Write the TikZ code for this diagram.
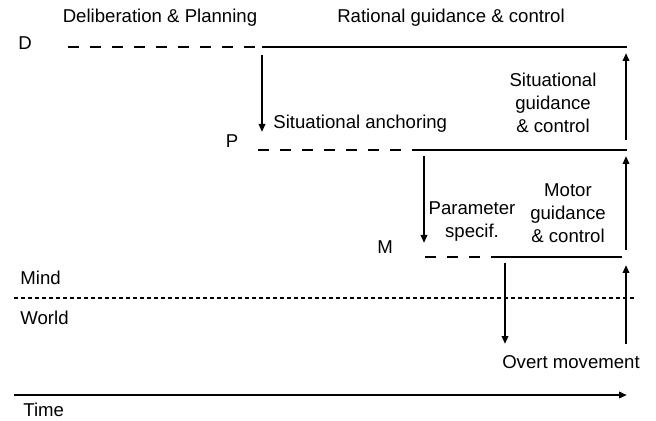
\documentclass[tikz,border=0pt]{standalone}
\usepackage{fontspec}
\setmainfont{Liberation Sans}
\usetikzlibrary{arrows.meta, positioning}

\begin{document}
\begin{tikzpicture}[x=0.5pt, y=-0.5pt,% styles used in image code
         > = {Triangle[length=4pt, width=3.2pt]},
   txt/.style = {inner sep=0pt, font=\fontsize{9.3}{11.5}\selectfont, align=center},
 level/.style = {line width=1pt},
plan/.style = {line width=1pt, dash pattern=on 5.5pt off 5.5pt},
  flow/.style = {line width=1pt, ->, shorten >=1pt}
                        ]
	\useasboundingbox (0,0) rectangle (656,421);

	% headings
	\node[txt] (delib) at (160,18) {Deliberation \& Planning};
	\node[txt] (rational) at (451,18) {Rational guidance \& control};

	% levels D, P, M
	\node[txt] (D) at (25,43) {D};
	\node[txt] (P) at (232,141) {P};
	\node[txt] (M) at (385,247) {M};

	\coordinate (d0) at (68,47);
	\coordinate (d1) at (262,47);
	\coordinate (d2) at (627,47);
	\coordinate (p0) at (258,150);
	\coordinate (p1) at (420,150);
	\coordinate (p2) at (627,150);
	\coordinate (m0) at (425,257);
	\coordinate (m1) at (500,257);
	\coordinate (m2) at (622,257);

	\draw[plan] (d0) -- (d1);
	\draw[level] (d1) -- (d2);
	\draw[plan] (p0) -- (p1);
	\draw[level] (p1) -- (p2);
	\draw[plan] (m0) -- (m1);
	\draw[level] (m1) -- (m2);

	% downward specification
	\draw[flow] (262,55) -- (262,134);
	\draw[flow] (424,156) -- (424,245);
	\draw[flow] (505,263) -- (505,346);

	% upward control
	\draw[flow] (626,140) -- (626,51);
	\draw[flow] (626,250) -- (626,154);
	\draw[flow] (626,344) -- (626,263);

	\node[txt, anchor=west] (anchor) at (273,124) {Situational anchoring};
	\node[txt] (sitgc) at (553,103) {Situational\\guidance\\\& control};
	\node[txt] (param) at (472,222) {Parameter\\specif.};
	\node[txt] (motor) at (568,213) {Motor\\guidance\\\& control};

	% mind / world border
	\coordinate (b0) at (14,298);
	\coordinate (b1) at (634,298);
	\draw[line width=1pt, dash pattern=on 2pt off 1.5pt] (b0) -- (b1);
	\node[txt, anchor=west] (mind) at (20,278) {Mind};
	\node[txt, anchor=west] (world) at (20,318) {World};
	\node[txt] (overt) at (571,362) {Overt movement};

	% time axis
	\coordinate (t0) at (14,395);
	\coordinate (t1) at (629,395);
	\draw[flow] (t0) -- (t1);
	\node[txt, anchor=west] (time) at (23,410) {Time};
\end{tikzpicture}
\end{document}
